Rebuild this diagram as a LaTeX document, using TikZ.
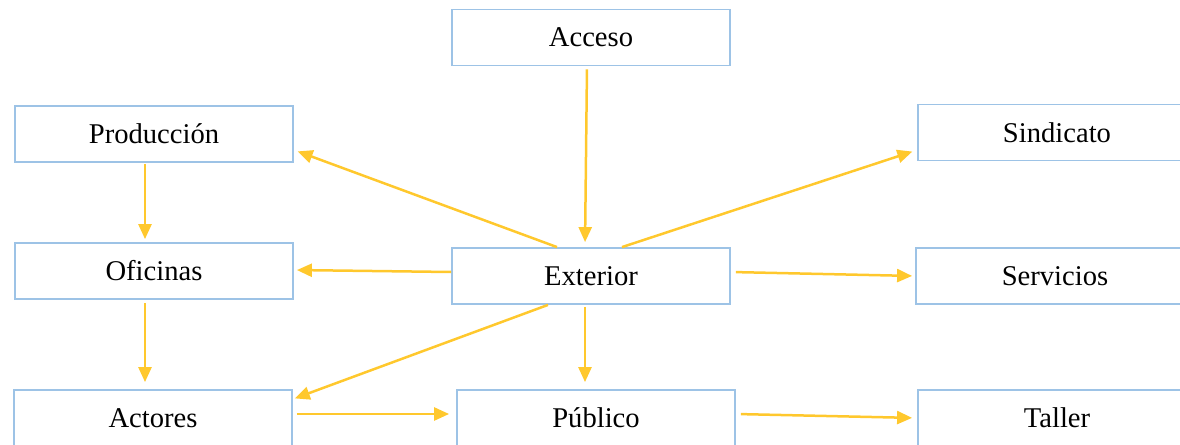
\documentclass[tikz,border=0pt]{standalone}
\usepackage{fontspec}
\setmainfont{Liberation Serif}
\usetikzlibrary{arrows.meta, positioning}

\definecolor{boxblue}{RGB}{157,195,230}
\definecolor{flowgold}{RGB}{255,200,45}

\begin{document}
\begin{tikzpicture}[
  x=0.5pt, y=-0.5pt,
  font=\fontsize{14.3}{17}\selectfont,
  arrow/.style={-{Triangle[length=7.5pt,width=6.5pt]}, flowgold, line width=1.25pt},
  area/.style={
    draw=boxblue,
    line width=0.9pt,
    fill=white,
    minimum width=139pt,
    minimum height=28pt,
    inner sep=2pt
  }
]
\useasboundingbox (0,0) rectangle (1180,445);
\clip (0,0) rectangle (1180,445);

% =========================
% Areas
% =========================
\node[area] (acceso) at (591,37.5) {Acceso};

\node[area] (produccion) at (154,134) {Producción};
\node[area] (sindicato) at (1057,132.5) {Sindicato};

\node[area] (oficinas) at (154,271) {Oficinas};
\node[area] (exterior) at (591,276) {Exterior};
\node[area] (servicios) at (1055,276) {Servicios};

\node[area] (actores) at (153,418) {Actores};
\node[area] (publico) at (596,418) {Público};
\node[area] (taller) at (1057,418) {Taller};

% =========================
% Flows
% =========================
\draw[arrow, shorten <=1.5pt, shorten >=2.5pt]
  ([xshift=-2pt]acceso.south) -- ([xshift=-3pt]exterior.north);

\draw[arrow, shorten >=2pt]
  ([xshift=-17pt]exterior.north) -- ([yshift=-8pt]produccion.east);
\draw[arrow, shorten >=2.5pt]
  ([xshift=15.5pt]exterior.north) -- ([yshift=-8.75pt]sindicato.west);

\draw[arrow, shorten >=1.5pt]
  ([yshift=2pt]exterior.west) -- ([yshift=0.5pt]oficinas.east);
\draw[arrow, shorten <=2.5pt, shorten >=1.5pt]
  ([yshift=2pt]exterior.east) -- (servicios.west);

\draw[arrow, shorten >=1pt]
  ([xshift=-21.5pt]exterior.south) -- ([yshift=-5pt]actores.north east);
\draw[arrow, shorten <=1pt, shorten >=3.5pt]
  ([xshift=-3pt]exterior.south) -- ([xshift=-5.5pt]publico.north);

\draw[arrow, shorten <=0.5pt, shorten >=1.5pt]
  ([xshift=-4.5pt]produccion.south) -- ([xshift=-4.5pt]oficinas.north);
\draw[arrow, shorten <=1.5pt, shorten >=3.5pt]
  ([xshift=-4.5pt]oficinas.south) -- ([xshift=-4pt]actores.north);

\draw[arrow, shorten <=2pt, shorten >=3.5pt]
  ([yshift=2pt]actores.east) -- ([yshift=2pt]publico.west);
\draw[arrow, shorten <=2.5pt, shorten >=2.5pt]
  ([yshift=2pt]publico.east) -- (taller.west);

\end{tikzpicture}
\end{document}
